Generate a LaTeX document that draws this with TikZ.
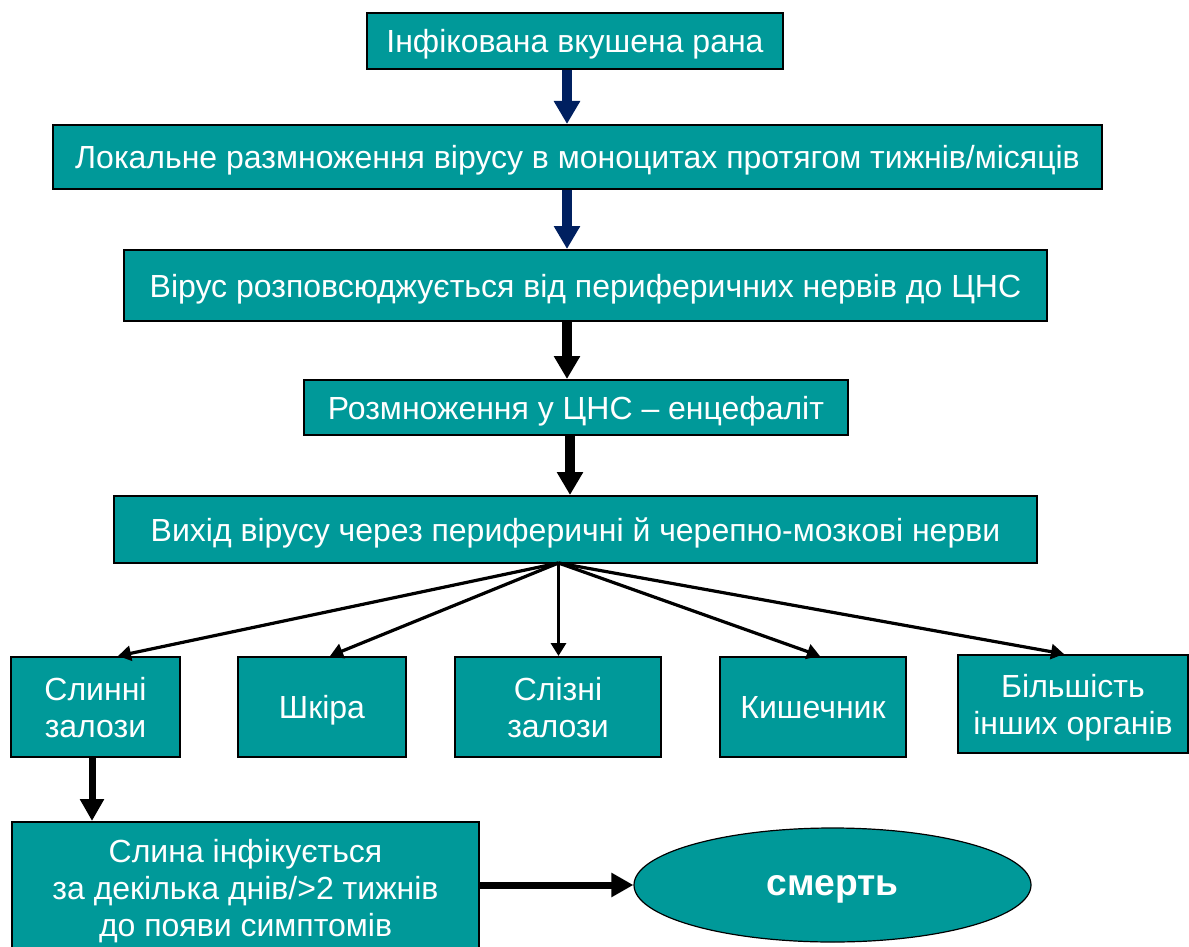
\documentclass[tikz,border=0pt]{standalone}
\usepackage{fontspec}
\setmainfont{Liberation Sans}
\usetikzlibrary{positioning,shapes.geometric,arrows.meta}
\definecolor{boxteal}{RGB}{0,153,153}
\definecolor{arrnavy}{RGB}{0,32,96}

\begin{document}
\begin{tikzpicture}[x=0.5pt,y=-0.5pt,font=\fontsize{16}{18.5}\selectfont,
  box/.style={draw,line width=1pt,fill=boxteal,text=white,inner sep=0pt,align=center,text depth=0pt},
  organ/.style={box,minimum height=50pt},
  bigarr/.style={line width=5pt,-{Triangle[length=11.5pt,width=12.5pt]}},
  midarr/.style={line width=3.5pt,-{Triangle[length=11pt,width=11.5pt]}},
  fanarr/.style={line width=1.6pt,-{Triangle[length=6.5pt,width=7.5pt]}}]
\useasboundingbox (0,0) rectangle (1189,947);
\node[box,minimum width=208pt,minimum height=28pt] (wound) at (575,41) {Інфікована вкушена рана};
\node[box,minimum width=524.5pt,minimum height=32pt] (local) at (577.5,157)
  {Локальне размноження вірусу в моноцитах протягом тижнів/місяців};
\node[box,minimum width=461.5pt,minimum height=35.5pt] (spread) at (585.5,285.5)
  {Вірус розповсюджується від периферичних нервів до ЦНС};
\node[box,minimum width=272pt,minimum height=27.5pt] (cns) at (576,407.5)
  {Розмноження у ЦНС – енцефаліт};
\node[box,minimum width=461.5pt,minimum height=33.5pt] (exit) at (575.5,529.5)
  {Вихід вірусу через периферичні й черепно-мозкові нерви};
% organs
\node[organ,minimum width=84.5pt] (o1) at (95.5,707) {Слинні\\залози};
\node[organ,minimum width=84pt] (o2) at (322,707) {Шкіра};
\node[organ,minimum width=103pt] (o3) at (558,707) {Слізні\\залози};
\node[organ,minimum width=93pt] (o4) at (813,707) {Кишечник};
\node[organ,minimum width=115pt,minimum height=49pt] (o5) at (1073,704) {Більшість\\інших органів};
\node[box,minimum width=233.5pt,minimum height=66pt] (saliva) at (245.5,888)
  {Слина інфікується\\за декілька днів/>2 тижнів\\до появи симптомів};
\node[ellipse,draw,line width=0.6pt,fill=boxteal,text=white,inner sep=0pt,text depth=0pt,
  minimum width=198.5pt,minimum height=57pt,font=\fontsize{18.6}{21}\selectfont\bfseries]
  (death) at (832.5,885) {смерть};
% arrows
\coordinate (ax) at (567,0);
\coordinate (fan) at (558.5,563);
\draw[bigarr,arrnavy] (ax |- wound.south) -- (ax |- local.north);
\draw[bigarr,arrnavy] (ax |- local.south) -- (ax |- spread.north);
\draw[bigarr] (ax |- spread.south) -- (ax |- cns.north);
\draw[bigarr] ([xshift=-3pt]cns.south) -- ([xshift=-2.75pt]exit.north);
\foreach \n/\s in {o1/11.25,o2/4,o3/0.25,o4/3.5,o5/-4.5}
  \draw[fanarr] (fan) -- ([xshift=\s pt]\n.north);
\draw[midarr] ([xshift=-1.75pt]o1.south) -- ([xshift=-76.75pt]saliva.north);
\draw[midarr] (saliva.east |- death.west) -- (death.west);
\end{tikzpicture}
\end{document}
